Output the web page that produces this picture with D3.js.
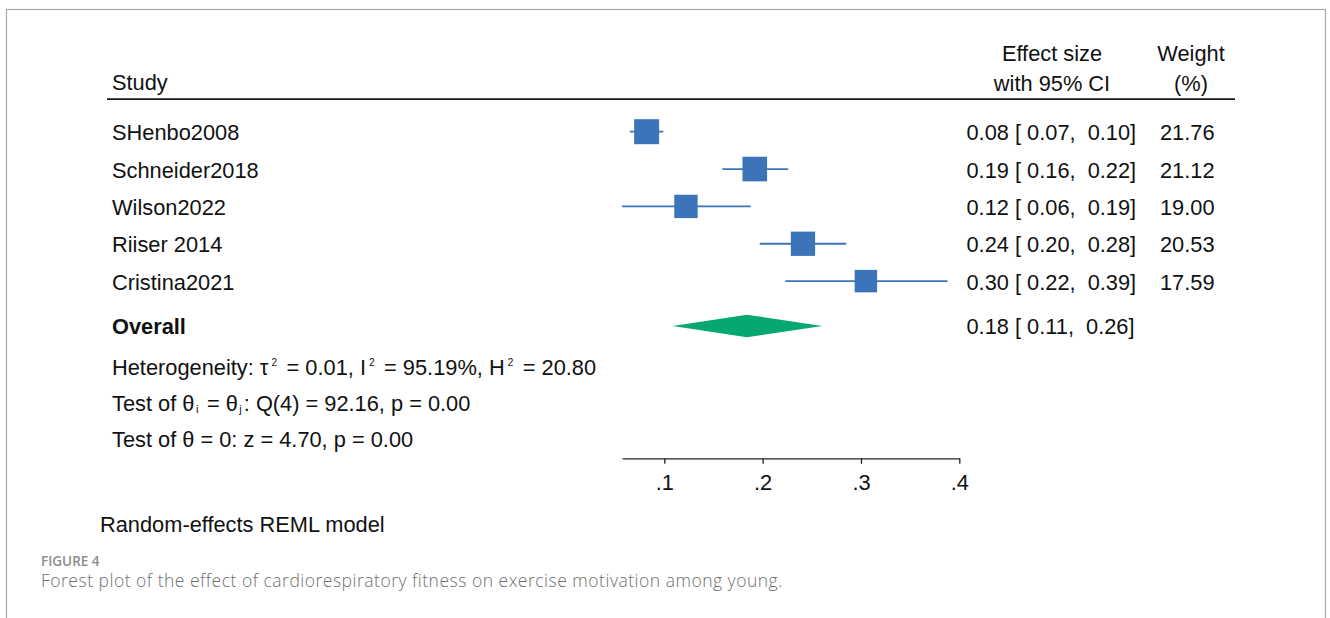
<!DOCTYPE html>
<html>
<head>
<meta charset="utf-8">
<script src="https://cdn.jsdelivr.net/npm/d3@7"></script>
<style>
    body { margin: 0; background: #fff; }
    svg { display: block; }
    .txt { font-family: "Liberation Sans", Arial, sans-serif; font-size: 21.8px; fill: #111; white-space: pre; }
</style>
</head>
<body>
<div id="wrapper"></div>
<script>
// study rows
const studies = ["SHenbo2008", "Schneider2018", "Wilson2022", "Riiser 2014", "Cristina2021"]
const effects = [0.082, 0.192, 0.122, 0.241, 0.305]
const lowers = [0.065, 0.159, 0.057, 0.197, 0.223]
const uppers = [0.099, 0.226, 0.188, 0.285, 0.388]
const weights = [21.76, 21.12, 19.00, 20.53, 17.59]
const effectLabels = [
    "0.08 [ 0.07,  0.10]",
    "0.19 [ 0.16,  0.22]",
    "0.12 [ 0.06,  0.19]",
    "0.24 [ 0.20,  0.28]",
    "0.30 [ 0.22,  0.39]",
]
const weightLabels = ["21.76", "21.12", "19.00", "20.53", "17.59"]

// pooled estimate (diamond)
const overallEffect = [0.184]
const overallLower = [0.1085]
const overallUpper = [0.2607]
const overallLabel = ["0.18 [ 0.11,  0.26]"]

const tickValues = [0.1, 0.2, 0.3, 0.4]
const tickLabels = [".1", ".2", ".3", ".4"]

function drawForest() {
    let dimensions = {
        width: 1330,
        height: 618,
        plotLeft: 566,     // where 0 would sit
        plotRight: 959.3,  // where .4 sits
        firstRow: 131.7,
        lastRow: 281.1,
        axisY: 458.3,
    }

    const svg = d3.select("#wrapper")
        .append("svg")
        .attr("width", dimensions.width)
        .attr("height", dimensions.height)

    // grey frame round the figure (bottom edge runs off the page)
    svg.append("rect")
        .attr("x", 6.5)
        .attr("y", 9.5)
        .attr("width", 1319)
        .attr("height", 700)
        .attr("fill", "none")
        .attr("stroke", "#a8a8a8")
        .attr("stroke-width", 1.2)

    // scales
    const xScale = d3.scaleLinear()
        .domain([0, 0.4])
        .range([dimensions.plotLeft, dimensions.plotRight])

    const yScale = d3.scalePoint()
        .domain(studies)
        .range([dimensions.firstRow, dimensions.lastRow])

    // box area follows the weight
    const sizeScale = d3.scaleSqrt()
        .domain([0, d3.max(weights)])
        .range([0, 25])

    const rows = studies.map((s, i) => ({
        study: s,
        es: effects[i],
        lo: lowers[i],
        hi: uppers[i],
        w: weights[i],
        esLabel: effectLabels[i],
        wLabel: weightLabels[i],
    }))

    // header
    svg.append("text").attr("class", "txt")
        .attr("x", 112).attr("y", 89.5)
        .text("Study")
    svg.append("text").attr("class", "txt")
        .attr("x", 1052).attr("y", 60.5)
        .attr("text-anchor", "middle")
        .text("Effect size")
    svg.append("text").attr("class", "txt")
        .attr("x", 1052).attr("y", 90.5)
        .attr("text-anchor", "middle")
        .text("with 95% CI")
    svg.append("text").attr("class", "txt")
        .attr("x", 1191).attr("y", 60.5)
        .attr("text-anchor", "middle")
        .text("Weight")
    svg.append("text").attr("class", "txt")
        .attr("x", 1191).attr("y", 90.5)
        .attr("text-anchor", "middle")
        .text("(%)")

    svg.append("line")
        .attr("x1", 107).attr("x2", 1235)
        .attr("y1", 99.2).attr("y2", 99.2)
        .attr("stroke", "#1a1a1a")
        .attr("stroke-width", 1.8)

    const blue = "#3b74b9"
    const green = "#07a870"

    // CI whiskers
    svg.selectAll(".ci")
        .data(rows)
        .join("line")
        .attr("class", "ci")
        .attr("x1", d => xScale(d.lo))
        .attr("x2", d => xScale(d.hi))
        .attr("y1", d => yScale(d.study))
        .attr("y2", d => yScale(d.study))
        .attr("stroke", blue)
        .attr("stroke-width", 1.8)

    // weighted boxes
    svg.selectAll(".box")
        .data(rows)
        .join("rect")
        .attr("class", "box")
        .attr("x", d => xScale(d.es) - sizeScale(d.w) / 2)
        .attr("y", d => yScale(d.study) - sizeScale(d.w) / 2)
        .attr("width", d => sizeScale(d.w))
        .attr("height", d => sizeScale(d.w))
        .attr("fill", blue)

    // text columns
    const textOffset = 8.5
    svg.selectAll(".studyName")
        .data(rows)
        .join("text")
        .attr("class", "txt studyName")
        .attr("x", 112)
        .attr("y", d => yScale(d.study) + textOffset)
        .text(d => d.study)

    svg.selectAll(".esText")
        .data(rows)
        .join("text")
        .attr("class", "txt esText")
        .attr("x", 966.5)
        .attr("y", d => yScale(d.study) + textOffset)
        .text(d => d.esLabel)

    svg.selectAll(".wText")
        .data(rows)
        .join("text")
        .attr("class", "txt wText")
        .attr("x", 1214.5)
        .attr("text-anchor", "end")
        .attr("y", d => yScale(d.study) + textOffset)
        .text(d => d.wLabel)

    // overall row
    const overallY = 326
    const diamondHalf = 11.2
    const diamond = [
        [xScale(overallLower[0]), overallY],
        [xScale(overallEffect[0]), overallY - diamondHalf],
        [xScale(overallUpper[0]), overallY],
        [xScale(overallEffect[0]), overallY + diamondHalf],
    ]
    svg.append("path")
        .attr("d", d3.line()(diamond) + "Z")
        .attr("fill", green)

    svg.append("text").attr("class", "txt")
        .attr("x", 112).attr("y", overallY + 8)
        .style("font-weight", "bold")
        .text("Overall")
    svg.append("text").attr("class", "txt")
        .attr("x", 966.5).attr("y", overallY + 8)
        .text(overallLabel[0])

    // heterogeneity lines, with super/subscripts
    // each script tspan shifts up/down, and the following tspan shifts back
    const scripted = (y, parts) => {
        const t = svg.append("text").attr("class", "txt")
            .attr("x", 112).attr("y", y)
        let shift = 0
        parts.forEach(p => {
            const dy = (p.dy || 0) - shift
            const span = t.append("tspan").text(p.text)
            if (dy) span.attr("dy", dy)
            if (p.dx) span.attr("dx", p.dx)
            if (p.size) span.style("font-size", p.size + "px")
            shift = p.dy || 0
        })
    }
    scripted(374.5, [
        { text: "Heterogeneity: τ" },
        { text: "2", dy: -8.5, size: 10, dx: 3 },
        { text: " = 0.01, I", dx: 3.5 },
        { text: "2", dy: -8.5, size: 10, dx: 3 },
        { text: " = 95.19%, H", dx: 3.5 },
        { text: "2", dy: -8.5, size: 10, dx: 3 },
        { text: " = 20.80", dx: 3.5 },
    ])
    scripted(410.5, [
        { text: "Test of θ" },
        { text: "i", dy: 2, size: 11, dx: 1.5 },
        { text: " = θ", dx: 2.5 },
        { text: "j", dy: 2, size: 11, dx: 1.5 },
        { text: ": Q(4) = 92.16, p = 0.00", dx: 2 },
    ])

    svg.append("text").attr("class", "txt")
        .attr("x", 112).attr("y", 447)
        .text("Test of θ = 0: z = 4.70, p = 0.00")

    // x axis, starting at the lowest CI bound
    const axisScale = xScale.copy()
        .domain([d3.min(lowers), 0.4])
        .range([xScale(d3.min(lowers)), xScale(0.4)])

    const xAxisGenerator = d3.axisBottom(axisScale)
        .tickValues(tickValues)
        .tickFormat((d, i) => tickLabels[i])
        .tickSize(5.5)
        .tickSizeOuter(0)
        .tickPadding(10.5)

    const xAxis = svg.append("g")
        .attr("transform", `translate(0, ${dimensions.axisY})`)
        .call(xAxisGenerator)
    xAxis.selectAll("path, line")
        .attr("stroke", "#222")
        .attr("stroke-width", 1.3)
    xAxis.selectAll("text")
        .attr("class", "txt")
        .style("font-family", "'Liberation Sans', Arial, sans-serif")
        .style("font-size", "21.8px")
        .attr("fill", "#111")

    svg.append("text").attr("class", "txt")
        .attr("x", 100).attr("y", 532)
        .text("Random-effects REML model")

    // figure caption
    svg.append("text")
        .attr("x", 41).attr("y", 566)
        .style("font-family", "'Open Sans', sans-serif")
        .style("font-weight", 600)
        .style("font-size", "13.5px")
        .attr("fill", "#8c8c8c")
        .text("FIGURE 4")
    svg.append("text")
        .attr("x", 41).attr("y", 587)
        .style("font-family", "'Open Sans', sans-serif")
        .style("font-weight", 300)
        .style("font-size", "17.5px")
        .style("letter-spacing", "0.5px")
        .attr("fill", "#6f6f6f")
        .text("Forest plot of the effect of cardiorespiratory fitness on exercise motivation among young.")
}

drawForest()
</script>
</body>
</html>
